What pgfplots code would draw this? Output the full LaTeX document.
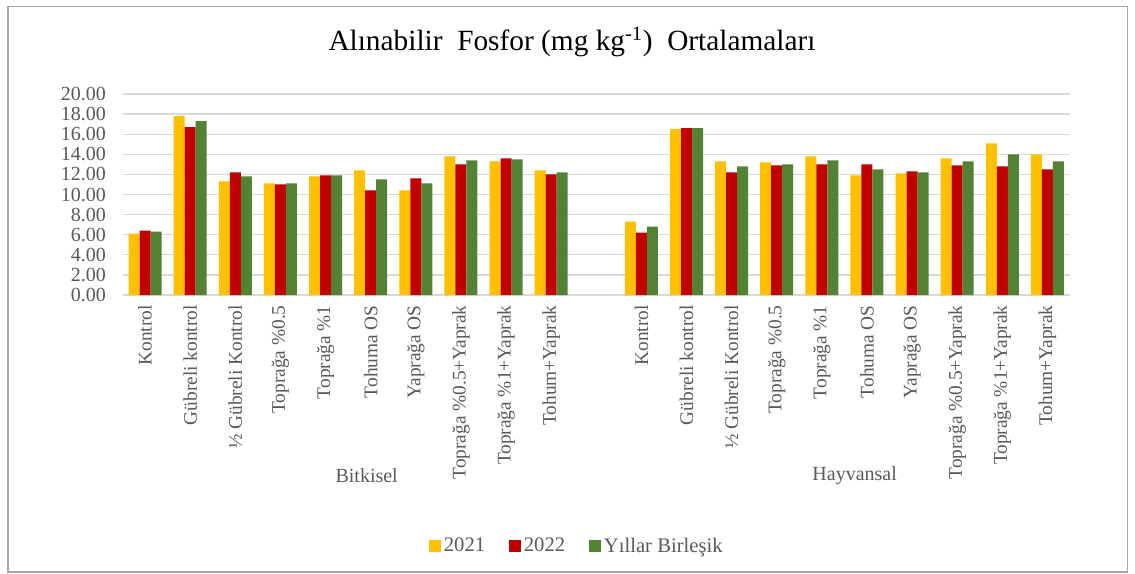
\documentclass[border=0pt]{standalone}
\usepackage{pgfplots}
\pgfplotsset{compat=1.18}
\usepackage{fontspec}
\setmainfont{Liberation Serif}
\definecolor{cYel}{HTML}{FFC000}
\definecolor{cRed}{HTML}{C00000}
\definecolor{cGrn}{HTML}{548235}
\definecolor{txt}{HTML}{595959}
\definecolor{grd}{HTML}{D9D9D9}
\begin{document}
\begin{tikzpicture}
% page frame (1135x574 px at 0.75pt/px)
\path (0,0) rectangle (851.25pt,-430.5pt);
\draw[gray!70,line width=0.8pt] (6pt,-5pt) rectangle (845.5pt,-429pt);
\begin{axis}[
  at={(91.9pt,-221.25pt)}, anchor=south west,
  scale only axis,
  width=710.6pt, height=150.75pt,
  ybar, bar width=8.25pt,
  xmin=-0.5, xmax=20.5,
  ymin=0, ymax=20,
  ytick={0,2,...,20},
  xtick={0,1,2,3,4,5,6,7,8,9,11,12,13,14,15,16,17,18,19,20},
  xticklabels={Kontrol,Gübreli kontrol,½ Gübreli Kontrol,Toprağa \%0.5,Toprağa \%1,Tohuma OS,Yaprağa OS,Toprağa \%0.5+Yaprak,Toprağa \%1+Yaprak,Tohum+Yaprak,
               Kontrol,Gübreli kontrol,½ Gübreli Kontrol,Toprağa \%0.5,Toprağa \%1,Tohuma OS,Yaprağa OS,Toprağa \%0.5+Yaprak,Toprağa \%1+Yaprak,Tohum+Yaprak},
  x tick label style={rotate=90,anchor=east,font=\fontsize{14.5}{16}\selectfont,text=txt},
  y tick label style={font=\fontsize{15}{17}\selectfont,text=txt,xshift=-9pt},
  yticklabel style={/pgf/number format/.cd,fixed,fixed zerofill,precision=2,assume math mode=true},
  axis line style={draw=none},
  major tick style={draw=none},
  ymajorgrids=true,
  grid style={draw=grd,line width=1pt},
  legend style={at={(0.48,-1.249)},anchor=center,draw=none,fill=none,
    legend columns=3,font=\fontsize{15.5}{17}\selectfont,text=txt,
    /tikz/every even column/.append style={column sep=16pt}},
  legend image code/.code={\fill[#1] (0pt,-4.5pt) rectangle (9pt,4.5pt);},
  legend cell align=left,
]
\addplot+[fill=cYel,draw=none,bar shift=-8.25pt] coordinates {
  (0,6.1) (1,17.8) (2,11.3) (3,11.1) (4,11.8) (5,12.4) (6,10.4) (7,13.8) (8,13.3) (9,12.4)
  (11,7.3) (12,16.5) (13,13.3) (14,13.2) (15,13.8) (16,11.9) (17,12.1) (18,13.6) (19,15.1) (20,14.0)
};
\addlegendentry{2021}
\addplot+[fill=cRed,draw=none,bar shift=0pt] coordinates {
  (0,6.4) (1,16.7) (2,12.2) (3,11.0) (4,11.9) (5,10.4) (6,11.6) (7,13.0) (8,13.6) (9,12.0)
  (11,6.2) (12,16.6) (13,12.2) (14,12.9) (15,13.0) (16,13.0) (17,12.3) (18,12.9) (19,12.8) (20,12.5)
};
\addlegendentry{2022}
\addplot+[fill=cGrn,draw=none,bar shift=8.25pt] coordinates {
  (0,6.3) (1,17.3) (2,11.8) (3,11.1) (4,11.9) (5,11.5) (6,11.1) (7,13.4) (8,13.5) (9,12.2)
  (11,6.8) (12,16.6) (13,12.8) (14,13.0) (15,13.4) (16,12.5) (17,12.2) (18,13.3) (19,14.0) (20,13.3)
};
\addlegendentry{Yıllar Birleşik}
\end{axis}
\node[font=\fontsize{22}{26}\selectfont] at (429pt,-31.5pt) {Alınabilir\ \ Fosfor (mg kg\textsuperscript{-1})\ \ Ortalamaları};
\node[font=\fontsize{15}{17}\selectfont,text=txt] at (275pt,-357pt) {Bitkisel};
\node[font=\fontsize{15}{17}\selectfont,text=txt] at (641pt,-357pt) {Hayvansal};
\end{tikzpicture}
\end{document}
